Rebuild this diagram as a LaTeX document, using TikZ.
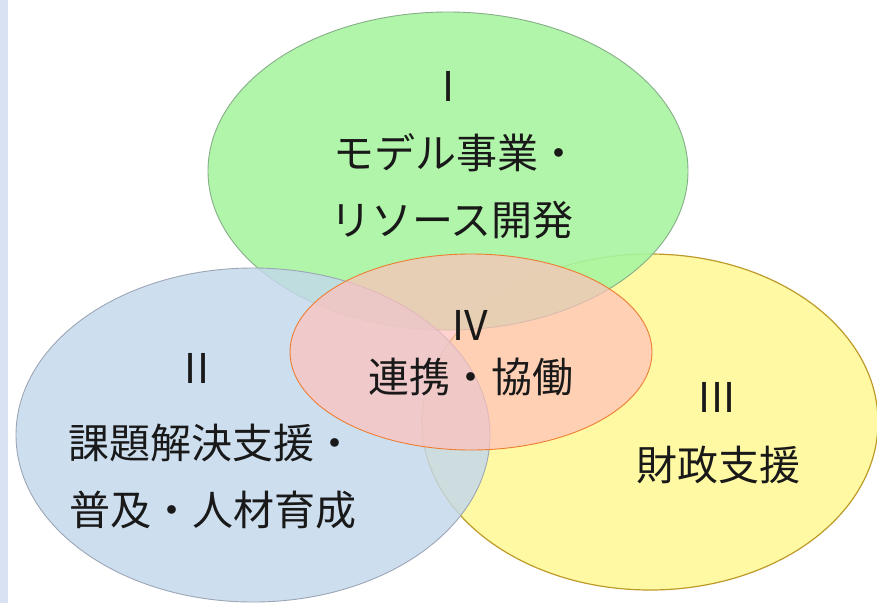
\documentclass[tikz,border=0pt]{standalone}
\usepackage{fontspec}
\newfontfamily\jp{Noto Sans CJK JP}
\usetikzlibrary{shapes.geometric}
\definecolor{stripc}{HTML}{D9E2F3}
\definecolor{greenf}{HTML}{A8F5A0}
\definecolor{greend}{HTML}{86AE88}
\definecolor{bluef}{HTML}{C3D8EC}
\definecolor{blued}{HTML}{9CA6B6}
\definecolor{yellowf}{HTML}{FFF9A4}
\definecolor{yellowd}{HTML}{BE9A28}
\definecolor{redf}{HTML}{FFC0BC}
\definecolor{redd}{HTML}{ED7D31}
\tikzset{
  blob/.style={ellipse, inner sep=0pt, line width=0.9pt},
  lbl/.style={font=\jp\fontsize{41}{50}\selectfont, inner sep=0pt, text=black!90}
}
\begin{document}
\begin{tikzpicture}[x=1pt,y=-1pt]
\useasboundingbox (0,0) rectangle (877,603);
\fill[white] (0,0) rectangle (877,603);
\fill[stripc] (0,0) rectangle (8,603);
\node[blob, draw=yellowd, line width=1.2pt, fill=yellowf, minimum width=456pt, minimum height=336pt] (yel) at (650,422) {};
\node[blob, draw=greend, fill=greenf, fill opacity=0.9, minimum width=480pt, minimum height=318pt] (grn) at (448,171) {};
\node[blob, draw=blued, fill=bluef, fill opacity=0.82, minimum width=474pt, minimum height=334pt] (blu) at (253,435) {};
\node[blob, draw=redd, fill=redf, fill opacity=0.7, minimum width=362pt, minimum height=196pt] (red) at (471,352) {};
\node[lbl] (t1) at (448,86) {I};
\node[lbl] (t1a) at (456,153) {モデル事業・};
\node[lbl] (t1b) at (452,220) {リソース開発};
\node[lbl] (t2) at (197,368) {II};
\node[lbl] (t2a) at (212,443) {課題解決支援・};
\node[lbl] (t2b) at (213,510) {普及・人材育成};
\node[lbl] (t3) at (717,397) {III};
\node[lbl] (t3a) at (718,465) {財政支援};
\node[lbl] (t4) at (470,325) {IV};
\node[lbl] (t4a) at (471,377) {連携・協働};
\end{tikzpicture}
\end{document}
